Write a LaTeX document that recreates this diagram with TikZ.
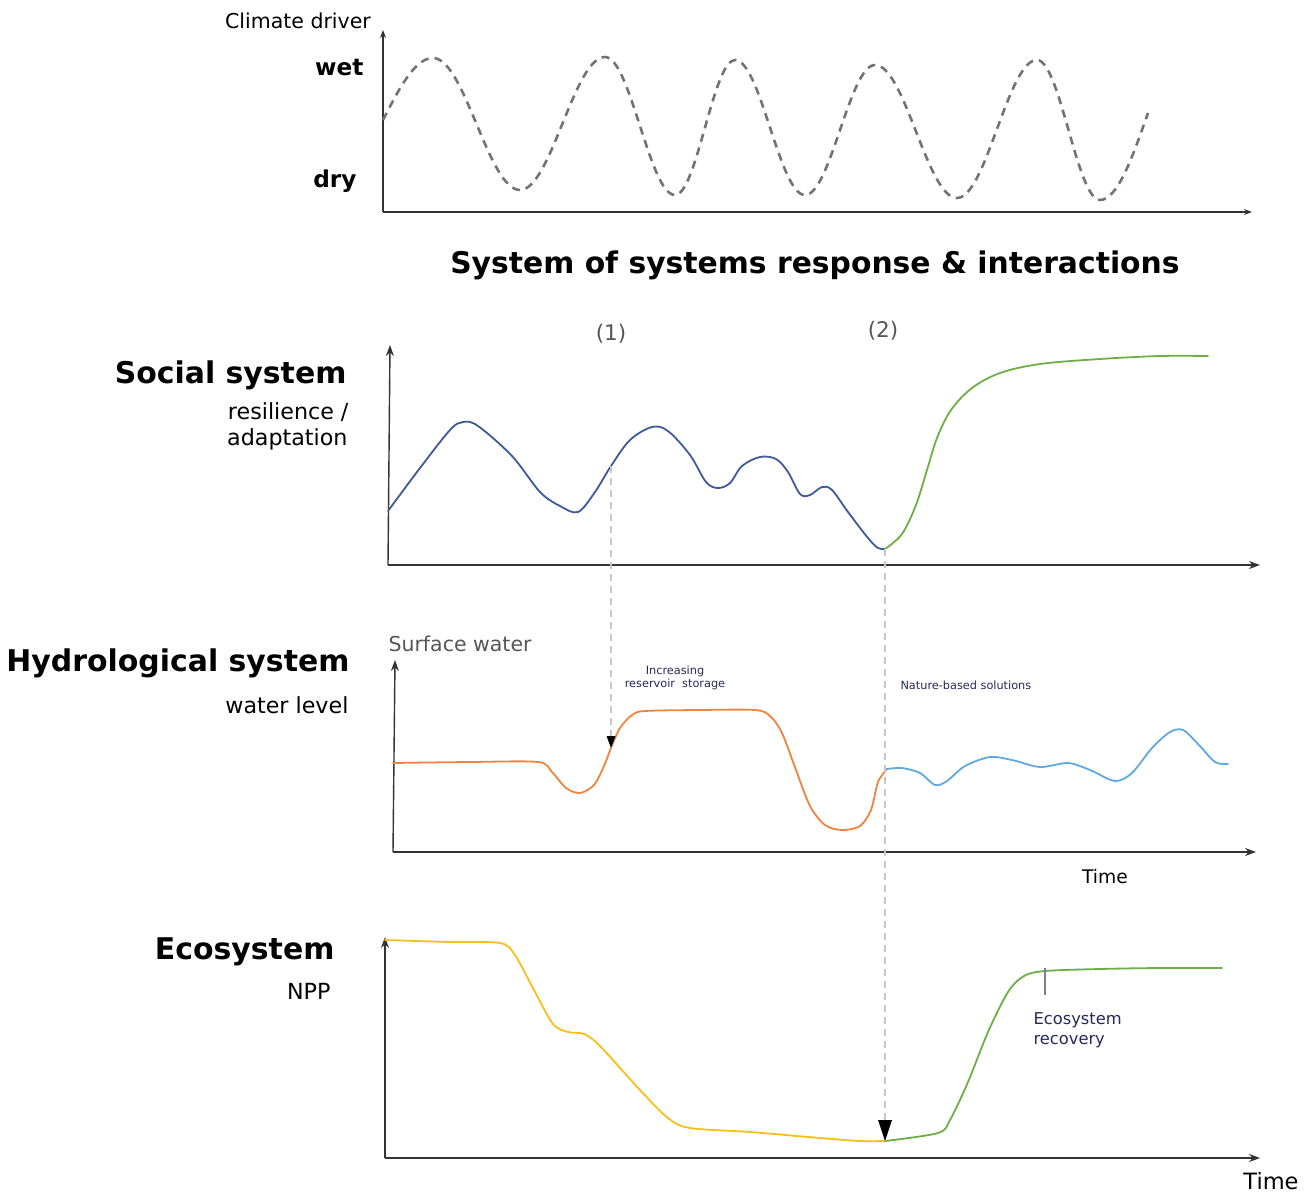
\documentclass[tikz,border=0pt]{standalone}
\usepackage{fontspec}
\setmainfont{DejaVu Sans}
\usetikzlibrary{arrows.meta}
\definecolor{socblue}{HTML}{3D5A99}
\definecolor{nbsgreen}{HTML}{6DAE45}
\definecolor{hydorange}{HTML}{EE8440}
\definecolor{hydblue}{HTML}{62A8E0}
\definecolor{ecoyellow}{HTML}{F6BF1A}
\definecolor{navytext}{HTML}{25285A}
\definecolor{labgray}{HTML}{555555}
\begin{document}
\begin{tikzpicture}[x=1pt,y=-1pt,
  axis/.style={draw=black!80, line width=1.4pt, -{Stealth[length=11pt,width=8pt]}},
  curve/.style={line width=1.8pt, line cap=round, line join=round},
  climcurve/.style={draw=black!55, line width=2.6pt, dash pattern=on 8pt off 6pt},
  guide/.style={draw=black!22, line width=1.3pt, dash pattern=on 7pt off 5pt},
  bigtitle/.style={font=\bfseries\fontsize{29.8}{34}\selectfont},
  systitle/.style={font=\bfseries\fontsize{29.9}{34}\selectfont, anchor=east},
  sublabel/.style={font=\fontsize{22.2}{26}\selectfont, anchor=east},
  small/.style={font=\fontsize{11.3}{13}\selectfont, text=navytext, align=center}
]
\useasboundingbox (0,0) rectangle (1307,1194);

% ---- Climate driver panel ----
\coordinate (c0) at (383,212);
\draw[axis,-{Stealth[length=8pt,width=6pt]}] (c0) -- (383,30) coordinate (ctop);
\draw[axis,-{Stealth[length=8pt,width=6pt]}] (c0) -- (1252,212) coordinate (cright);
\node[font=\fontsize{20.5}{24}\selectfont] (climlab) at (298,21) {Climate driver};
\node[font=\bfseries\fontsize{23.2}{27}\selectfont, anchor=east] (wet) at (367,68) {wet};
\node[font=\bfseries\fontsize{23.2}{27}\selectfont, anchor=east] (dry) at (360,181) {dry};
\draw[climcurve] (383,120) sin (433,58)
  cos (476.5,124) sin (520,190)
  cos (562.5,123.5) sin (605,57)
  cos (640,126) sin (675,195)
  cos (705,127.5) sin (735,60)
  cos (770,127.5) sin (805,195)
  cos (840,130) sin (875,65)
  cos (916,131.5) sin (957,198)
  cos (997,129) sin (1037,60)
  cos (1068.5,130) sin (1100,200)
  cos (1148,113);

\node[bigtitle] (title) at (815,265) {System of systems response \& interactions};

% ---- Social system ----
\coordinate (s0) at (388,565);
\draw[axis] (s0) -- (390,345) coordinate (stop);
\draw[axis] (s0) -- (1260,565) coordinate (sright);
\node[systitle] (soc) at (350,375) {Social system};
\node[sublabel] (res) at (352,412) {resilience /};
\node[sublabel] (ada) at (351,439) {adaptation};
\node[font=\fontsize{21.5}{25}\selectfont, text=labgray] (one) at (611,334) {(1)};
\node[font=\fontsize{21.5}{25}\selectfont, text=labgray] (two) at (883,331) {(2)};

\draw[curve, socblue] plot[smooth, tension=0.55] coordinates {
 (388,511) (420,468) (450,430) (463,422) (478,426) (512,456) (540,492) (560,506) (578,512)
 (595,492) (611,466) (630,440) (652,427) (668,431) (690,455) (706,482) (718,488) (730,483)
 (742,466) (760,457) (776,459) (788,472) (800,494) (810,495) (822,487) (832,490) (848,512)
 (868,538) (878,548) (885,549)};
\coordinate (s1) at (611,466);
\coordinate (s2) at (885,549);
\draw[curve, nbsgreen] plot[smooth, tension=0.55] coordinates {
 (885,549) (902,534) (916,505) (927,470) (937,438) (951,410) (972,388) (1000,373)
 (1040,364) (1100,359) (1160,356) (1208,356)};

% ---- Hydrological system ----
\coordinate (h0) at (393,852);
\draw[axis] (h0) -- (395,660) coordinate (htop);
\draw[axis] (h0) -- (1256,852) coordinate (hright);
\node[systitle] (hyd) at (353,663) {Hydrological system};
\node[sublabel] (wl) at (352,705) {water level};
\node[font=\fontsize{20.5}{24}\selectfont, text=labgray, anchor=west] (sw) at (385,644) {Surface water};
\node[font=\fontsize{18.7}{22}\selectfont] (time1) at (1105,877) {Time};
\node[small] (incr) at (675,678) {Increasing\\reservoir\ \ storage};
\node[small, anchor=west] (nbs) at (897,685) {Nature-based solutions};

\draw[curve, hydorange] plot[smooth, tension=0.5] coordinates {
 (393,763) (470,762) (538,762) (552,772) (566,788) (580,793) (594,785) (604,766) (611,748)
 (620,728) (632,715) (645,711) (700,710) (755,710) (770,716) (782,733) (796,770) (810,806)
 (825,825) (842,830) (860,826) (871,810) (878,782) (887,769)};
\coordinate (h1) at (611,748);
\draw[curve, hydblue] plot[smooth, tension=0.5] coordinates {
 (887,769) (902,768) (920,773) (935,785) (947,781) (965,766) (990,757) (1012,760) (1040,767)
 (1068,763) (1090,770) (1115,781) (1132,773) (1152,748) (1170,732) (1183,730) (1198,744)
 (1215,762) (1228,764)};

% ---- Ecosystem ----
\coordinate (e0) at (385,1158);
\draw[axis] (e0) -- (385,937) coordinate (etop);
\draw[axis] (e0) -- (1260,1158) coordinate (eright);
\node[systitle] (eco) at (338,952) {Ecosystem};
\node[sublabel] (npp) at (334,991) {NPP};
\node[font=\fontsize{22.5}{26}\selectfont] (time2) at (1271,1181) {Time};
\node[font=\fontsize{16.3}{19.5}\selectfont, text=navytext, anchor=west, align=left] (rec) at (1030,1030) {Ecosystem\\recovery};

\draw[curve, ecoyellow] plot[smooth, tension=0.5] coordinates {
 (385,940) (450,942) (500,943) (515,955) (535,992) (553,1024) (568,1032) (584,1034) (600,1046)
 (640,1090) (668,1118) (690,1128) (750,1132) (820,1138) (860,1141) (885,1141)};
\coordinate (e1) at (885,1141);
\draw[curve, nbsgreen] plot[smooth, tension=0.5] coordinates {
 (885,1141) (938,1133) (950,1120) (968,1082) (988,1032) (1008,992) (1024,976) (1045,971)
 (1100,969) (1160,968) (1222,968)};
\coordinate (tickA) at (1045,968);
\coordinate (tickB) at (1045,995);
\draw[draw=navytext!60, line width=1.3pt] (tickA) -- (tickB);

% ---- guides ----
\draw[guide] (s1) -- (h1);
\draw[guide] (s2) -- (e1);
\fill[black] (h1) -- ++(-4.5,-12) -- ++(9,0) -- cycle;
\fill[black] (e1) -- ++(-7,-21) -- ++(14,0) -- cycle;
\end{tikzpicture}
\end{document}
